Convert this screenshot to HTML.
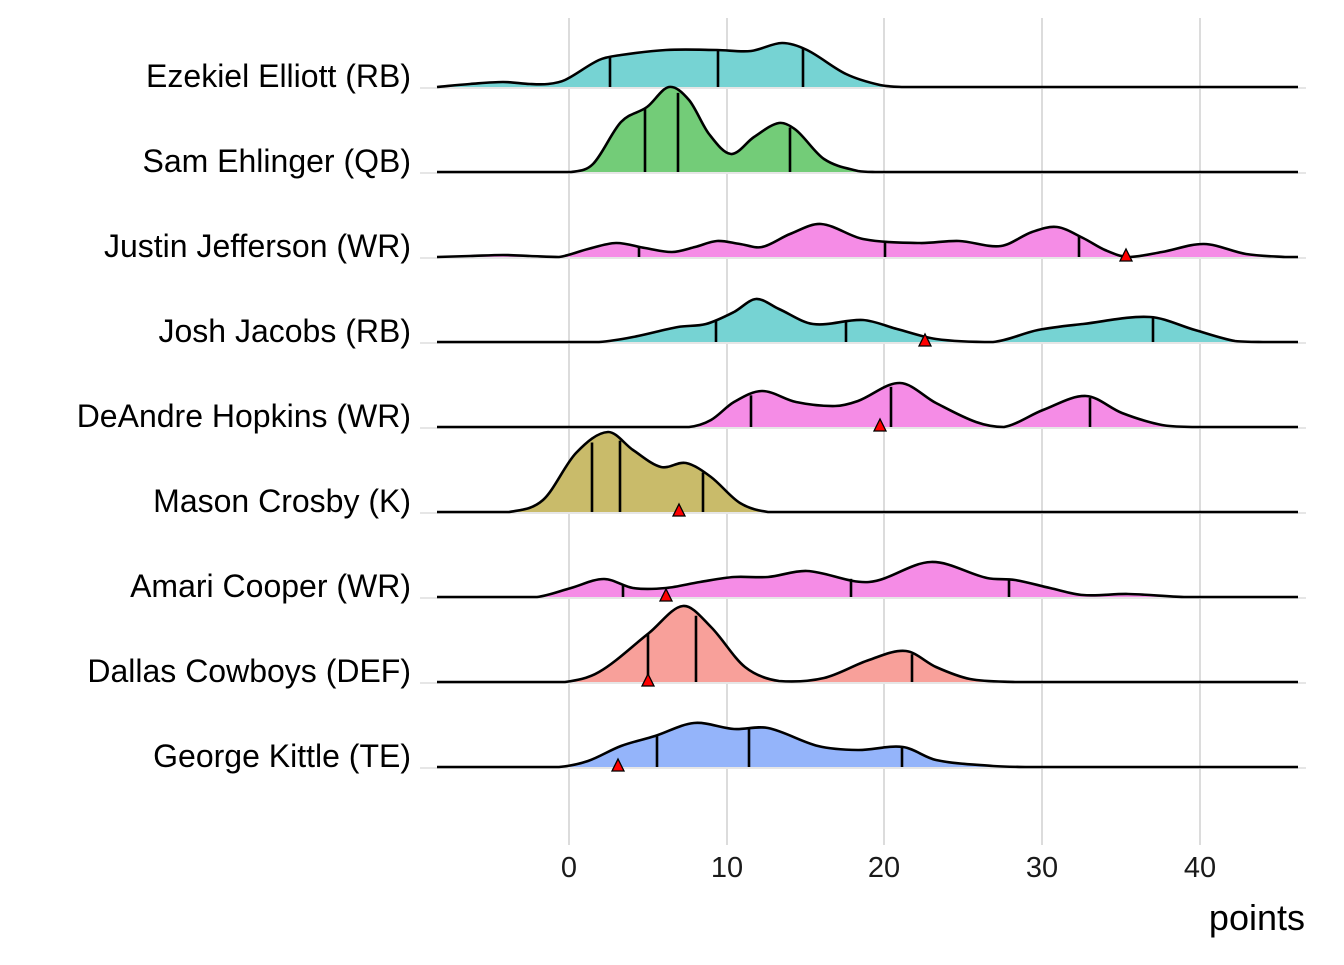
<!DOCTYPE html>
<html><head><meta charset="utf-8"><style>
html,body{margin:0;padding:0;background:#fff}
svg text{font-family:"Liberation Sans",Arial,sans-serif}
</style></head><body>
<svg id="s" width="1344" height="960" xmlns="http://www.w3.org/2000/svg">
<g stroke="#dcdcdc" stroke-width="2">
<line x1="569" y1="18" x2="569" y2="845"/><line x1="727" y1="18" x2="727" y2="845"/>
<line x1="884" y1="18" x2="884" y2="845"/><line x1="1042" y1="18" x2="1042" y2="845"/>
<line x1="1200" y1="18" x2="1200" y2="845"/>
</g>
<g id="rows"></g>
<g font-size="32" fill="#000" text-anchor="end">
<text x="411" y="87">Ezekiel Elliott (RB)</text>
<text x="411" y="172">Sam Ehlinger (QB)</text>
<text x="411" y="257">Justin Jefferson (WR)</text>
<text x="411" y="342">Josh Jacobs (RB)</text>
<text x="411" y="427">DeAndre Hopkins (WR)</text>
<text x="411" y="512">Mason Crosby (K)</text>
<text x="411" y="597">Amari Cooper (WR)</text>
<text x="411" y="682">Dallas Cowboys (DEF)</text>
<text x="411" y="767">George Kittle (TE)</text>
</g>
<g font-size="29" fill="#1a1a1a" text-anchor="middle">
<text x="569" y="877">0</text><text x="727" y="877">10</text><text x="884" y="877">20</text>
<text x="1042" y="877">30</text><text x="1200" y="877">40</text>
</g>
<text x="1305" y="930" font-size="36" text-anchor="end">points</text>
</svg>
<script>
var rows=[
{b:87,c:"#76D3D3",p:[[437,0],[470,3],[503,5],[530,3],[548,3],[565,7],[599,27],[621,32],[666,37],[717,37],[751,36],[782,44],[807,37],[846,13],[880,2],[903,0],[940,0]],q:[610,718,803],t:null},
{b:172,c:"#73CC78",p:[[437,0],[540,0],[571,0],[593,8],[621,50],[647,65],[669,85],[689,72],[709,38],[731,18],[754,35],[779,49],[796,42],[824,13],[858,1],[875,0],[910,0]],q:[645,678,790],t:null},
{b:257,c:"#F58CE6",p:[[437,0],[470,1],[503,2],[530,1],[559,0],[588,8],[616,14],[645,9],[672,5],[695,10],[717,16],[740,13],[762,10],[790,23],[821,33],[863,18],[920,14],[959,16],[1001,11],[1032,25],[1057,30],[1083,19],[1105,7],[1128,0],[1162,5],[1204,13],[1246,3],[1285,0],[1298,0]],q:[639,885,1079],t:1126},
{b:342,c:"#76D3D3",p:[[437,0],[560,0],[599,0],[633,5],[678,15],[706,18],[734,30],[756,43],[779,33],[813,18],[863,22],[897,13],[936,3],[993,0],[1038,12],[1083,18],[1150,25],[1195,12],[1235,1],[1263,0],[1298,0]],q:[716,846,1153],t:925},
{b:427,c:"#F58CE6",p:[[437,0],[650,0],[689,0],[711,7],[734,25],[762,36],[796,25],[835,21],[858,26],[900,44],[936,24],[976,5],[1004,0],[1043,17],[1086,31],[1122,14],[1162,2],[1195,0],[1230,0]],q:[751,891,1090],t:880},
{b:512,c:"#C9BB6A",p:[[437,0],[480,0],[509,0],[543,12],[576,59],[608,80],[633,62],[661,45],[686,49],[711,35],[740,9],[768,0],[800,0]],q:[592,620,703],t:679},
{b:597,c:"#F58CE6",p:[[437,0],[500,0],[537,0],[571,9],[604,18],[633,9],[666,9],[700,15],[734,20],[768,20],[807,26],[869,15],[931,35],[987,19],[1015,17],[1050,9],[1083,2],[1128,3],[1184,0],[1220,0]],q:[623,851,1009],t:666},
{b:682,c:"#F8A09A",p:[[437,0],[530,0],[565,0],[599,10],[649,49],[683,76],[711,55],[745,15],[779,1],[824,4],[869,22],[906,31],[936,15],[970,3],[1015,0],[1050,0]],q:[648,696,912],t:648},
{b:767,c:"#94B4FA",p:[[437,0],[520,0],[559,0],[588,6],[621,21],[655,31],[694,44],[734,38],[768,39],[818,21],[858,17],[903,20],[936,7],[993,1],[1027,0],[1060,0]],q:[657,749,902],t:618}
];
var g=document.getElementById("rows"),NS="http://www.w3.org/2000/svg";
function el(n,a){var e=document.createElementNS(NS,n);for(var k in a)e.setAttribute(k,a[k]);g.appendChild(e);return e;}
rows.forEach(function(r){
 var p=r.p.map(function(v){return [v[0],r.b-v[1]];});
 if(p[p.length-1][0]<1298)p.push([1298,r.b]);
 var d="M"+p[0][0]+","+p[0][1];
 for(var i=0;i<p.length-1;i++){
  var p0=p[i-1]||p[i],p1=p[i],p2=p[i+1],p3=p[i+2]||p2;
  var w=p2[0]-p1[0];
  var t1=(p2[1]-p0[1])/(p2[0]-p0[0]||1),t2=(p3[1]-p1[1])/(p3[0]-p1[0]||1);
  if(p1[1]==r.b&&p2[1]==r.b){t1=0;t2=0;}
  var c1=[p1[0]+w/3,p1[1]+t1*w/3],c2=[p2[0]-w/3,p2[1]-t2*w/3];
  if(c1[1]>r.b)c1[1]=r.b;if(c2[1]>r.b)c2[1]=r.b;
  d+=" C"+c1[0].toFixed(1)+","+c1[1].toFixed(1)+" "+c2[0].toFixed(1)+","+c2[1].toFixed(1)+" "+p2[0]+","+p2[1];
 }
 el("line",{x1:420,y1:r.b+1,x2:1306,y2:r.b+1,stroke:"#e6e6e6","stroke-width":2});
 el("path",{d:d+" Z",fill:r.c,stroke:"none"});
 r.q.forEach(function(x){
  var h=0;for(var i=0;i<r.p.length-1;i++){var a=r.p[i],b=r.p[i+1];if(x>=a[0]&&x<=b[0]){h=a[1]+(b[1]-a[1])*(x-a[0])/(b[0]-a[0]);break;}}
  el("line",{x1:x,y1:r.b,x2:x,y2:r.b-h,stroke:"#000","stroke-width":2.6});
 });
 el("path",{d:d,fill:"none",stroke:"#000","stroke-width":2.6});
 if(r.t){var x=r.t,y=r.b+4;el("path",{d:"M"+(x-6)+","+y+" L"+(x+6)+","+y+" L"+x+","+(y-12)+" Z",fill:"#f00",stroke:"#000","stroke-width":1.3});}
});
</script>
</body></html>
